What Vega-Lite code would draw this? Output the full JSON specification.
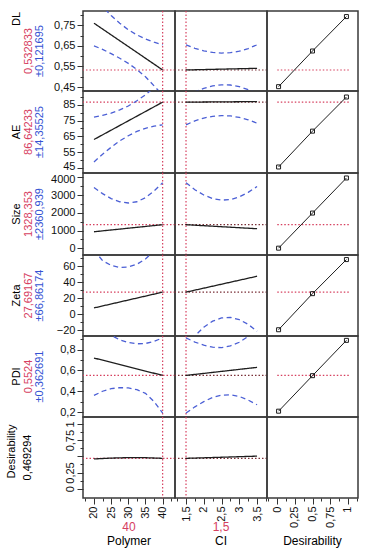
{
"$schema": "https://vega.github.io/schema/vega-lite/v6.json",
"padding": {"left": 0, "top": 8, "right": 7, "bottom": 0},
"background": "white",
"columns": 4,
"spacing": 0,
"bounds": "flush",
"align": "each",
"datasets": {
"factors": [{"factor": "Polymer", "x": 40}, {"factor": "CI", "x": 1.5}],
"current": [{"resp": "DL", "y": 0.532833}, {"resp": "AE", "y": 86.64233}, {"resp": "Size", "y": 1328.353}, {"resp": "Zeta", "y": 27.69167}, {"resp": "PDI", "y": 0.5524}, {"resp": "Desirability", "y": 0.469294}],
"labels": [
{"resp": "DL", "kind": "name", "text": "DL"}, {"resp": "DL", "kind": "value", "text": "0,532833"}, {"resp": "DL", "kind": "ci", "text": "±0,121695"},
{"resp": "AE", "kind": "name", "text": "AE"}, {"resp": "AE", "kind": "value", "text": "86,64233"}, {"resp": "AE", "kind": "ci", "text": "±14,35525"},
{"resp": "Size", "kind": "name", "text": "Size"}, {"resp": "Size", "kind": "value", "text": "1328,353"}, {"resp": "Size", "kind": "ci", "text": "±2360,939"},
{"resp": "Zeta", "kind": "name", "text": "Zeta"}, {"resp": "Zeta", "kind": "value", "text": "27,69167"}, {"resp": "Zeta", "kind": "ci", "text": "±66,86174"},
{"resp": "PDI", "kind": "name", "text": "PDI"}, {"resp": "PDI", "kind": "value", "text": "0,5524"}, {"resp": "PDI", "kind": "ci", "text": "±0,362691"},
{"resp": "Desirability", "kind": "name", "text": "Desirability"}, {"resp": "Desirability", "kind": "dval", "text": "0,469294"}
],
"xlabels": [
{"col": "Polymer", "kind": "value", "text": "40"}, {"col": "Polymer", "kind": "name", "text": "Polymer"},
{"col": "CI", "kind": "value", "text": "1,5"}, {"col": "CI", "kind": "name", "text": "CI"},
{"col": "Desirability", "kind": "name", "text": "Desirability"}
],
"desir": [
{"resp": "DL", "d": 0.0183, "y": 0.452}, {"resp": "DL", "d": 0.5, "y": 0.625}, {"resp": "DL", "d": 0.9817, "y": 0.792},
{"resp": "AE", "d": 0.0183, "y": 45.6}, {"resp": "AE", "d": 0.5, "y": 68.3}, {"resp": "AE", "d": 0.9817, "y": 89.9},
{"resp": "Size", "d": 0.0183, "y": 5}, {"resp": "Size", "d": 0.5, "y": 1983}, {"resp": "Size", "d": 0.9817, "y": 3960},
{"resp": "Zeta", "d": 0.0183, "y": -19.2}, {"resp": "Zeta", "d": 0.5, "y": 25.8}, {"resp": "Zeta", "d": 0.9817, "y": 68.3},
{"resp": "PDI", "d": 0.0183, "y": 0.208}, {"resp": "PDI", "d": 0.5, "y": 0.55}, {"resp": "PDI", "d": 0.9817, "y": 0.89}
],
"curves": [
{"resp": "DL", "factor": "Polymer", "series": "pred", "x": 20, "y": 0.76}, {"resp": "DL", "factor": "Polymer", "series": "pred", "x": 40, "y": 0.533},
{"resp": "DL", "factor": "Polymer", "series": "upper", "x": 20, "y": 0.89}, {"resp": "DL", "factor": "Polymer", "series": "upper", "x": 22.5, "y": 0.84}, {"resp": "DL", "factor": "Polymer", "series": "upper", "x": 25, "y": 0.797}, {"resp": "DL", "factor": "Polymer", "series": "upper", "x": 27.5, "y": 0.76}, {"resp": "DL", "factor": "Polymer", "series": "upper", "x": 30, "y": 0.728}, {"resp": "DL", "factor": "Polymer", "series": "upper", "x": 32.5, "y": 0.703}, {"resp": "DL", "factor": "Polymer", "series": "upper", "x": 35, "y": 0.683}, {"resp": "DL", "factor": "Polymer", "series": "upper", "x": 37.5, "y": 0.668}, {"resp": "DL", "factor": "Polymer", "series": "upper", "x": 40, "y": 0.655},
{"resp": "DL", "factor": "Polymer", "series": "lower", "x": 20, "y": 0.65}, {"resp": "DL", "factor": "Polymer", "series": "lower", "x": 22.5, "y": 0.633}, {"resp": "DL", "factor": "Polymer", "series": "lower", "x": 25, "y": 0.612}, {"resp": "DL", "factor": "Polymer", "series": "lower", "x": 27.5, "y": 0.59}, {"resp": "DL", "factor": "Polymer", "series": "lower", "x": 30, "y": 0.565}, {"resp": "DL", "factor": "Polymer", "series": "lower", "x": 32.5, "y": 0.535}, {"resp": "DL", "factor": "Polymer", "series": "lower", "x": 35, "y": 0.5}, {"resp": "DL", "factor": "Polymer", "series": "lower", "x": 37.5, "y": 0.456}, {"resp": "DL", "factor": "Polymer", "series": "lower", "x": 40, "y": 0.411},
{"resp": "DL", "factor": "CI", "series": "pred", "x": 1.5, "y": 0.533}, {"resp": "DL", "factor": "CI", "series": "pred", "x": 3.5, "y": 0.541},
{"resp": "DL", "factor": "CI", "series": "upper", "x": 1.5, "y": 0.655}, {"resp": "DL", "factor": "CI", "series": "upper", "x": 1.75, "y": 0.638}, {"resp": "DL", "factor": "CI", "series": "upper", "x": 2, "y": 0.626}, {"resp": "DL", "factor": "CI", "series": "upper", "x": 2.25, "y": 0.618}, {"resp": "DL", "factor": "CI", "series": "upper", "x": 2.5, "y": 0.615}, {"resp": "DL", "factor": "CI", "series": "upper", "x": 2.75, "y": 0.617}, {"resp": "DL", "factor": "CI", "series": "upper", "x": 3, "y": 0.624}, {"resp": "DL", "factor": "CI", "series": "upper", "x": 3.25, "y": 0.637}, {"resp": "DL", "factor": "CI", "series": "upper", "x": 3.5, "y": 0.655},
{"resp": "DL", "factor": "CI", "series": "lower", "x": 1.5, "y": 0.411}, {"resp": "DL", "factor": "CI", "series": "lower", "x": 1.75, "y": 0.428}, {"resp": "DL", "factor": "CI", "series": "lower", "x": 2, "y": 0.444}, {"resp": "DL", "factor": "CI", "series": "lower", "x": 2.25, "y": 0.456}, {"resp": "DL", "factor": "CI", "series": "lower", "x": 2.5, "y": 0.461}, {"resp": "DL", "factor": "CI", "series": "lower", "x": 2.75, "y": 0.46}, {"resp": "DL", "factor": "CI", "series": "lower", "x": 3, "y": 0.452}, {"resp": "DL", "factor": "CI", "series": "lower", "x": 3.25, "y": 0.438}, {"resp": "DL", "factor": "CI", "series": "lower", "x": 3.5, "y": 0.42},
{"resp": "AE", "factor": "Polymer", "series": "pred", "x": 20, "y": 63}, {"resp": "AE", "factor": "Polymer", "series": "pred", "x": 40, "y": 86.64},
{"resp": "AE", "factor": "Polymer", "series": "upper", "x": 20, "y": 77.2}, {"resp": "AE", "factor": "Polymer", "series": "upper", "x": 22.5, "y": 78.3}, {"resp": "AE", "factor": "Polymer", "series": "upper", "x": 25, "y": 79.7}, {"resp": "AE", "factor": "Polymer", "series": "upper", "x": 27.5, "y": 81.7}, {"resp": "AE", "factor": "Polymer", "series": "upper", "x": 30, "y": 84.2}, {"resp": "AE", "factor": "Polymer", "series": "upper", "x": 32.5, "y": 87.5}, {"resp": "AE", "factor": "Polymer", "series": "upper", "x": 35, "y": 91.3}, {"resp": "AE", "factor": "Polymer", "series": "upper", "x": 37.5, "y": 95.9}, {"resp": "AE", "factor": "Polymer", "series": "upper", "x": 40, "y": 101},
{"resp": "AE", "factor": "Polymer", "series": "lower", "x": 20, "y": 48.8}, {"resp": "AE", "factor": "Polymer", "series": "lower", "x": 22.5, "y": 53.7}, {"resp": "AE", "factor": "Polymer", "series": "lower", "x": 25, "y": 58.1}, {"resp": "AE", "factor": "Polymer", "series": "lower", "x": 27.5, "y": 62.1}, {"resp": "AE", "factor": "Polymer", "series": "lower", "x": 30, "y": 65.4}, {"resp": "AE", "factor": "Polymer", "series": "lower", "x": 32.5, "y": 68.1}, {"resp": "AE", "factor": "Polymer", "series": "lower", "x": 35, "y": 70.1}, {"resp": "AE", "factor": "Polymer", "series": "lower", "x": 37.5, "y": 71.5}, {"resp": "AE", "factor": "Polymer", "series": "lower", "x": 40, "y": 72.3},
{"resp": "AE", "factor": "CI", "series": "pred", "x": 1.5, "y": 86.64}, {"resp": "AE", "factor": "CI", "series": "pred", "x": 3.5, "y": 87.0},
{"resp": "AE", "factor": "CI", "series": "upper", "x": 1.5, "y": 101}, {"resp": "AE", "factor": "CI", "series": "upper", "x": 2, "y": 97.2}, {"resp": "AE", "factor": "CI", "series": "upper", "x": 2.5, "y": 95.3}, {"resp": "AE", "factor": "CI", "series": "upper", "x": 3, "y": 96.8}, {"resp": "AE", "factor": "CI", "series": "upper", "x": 3.5, "y": 100.7},
{"resp": "AE", "factor": "CI", "series": "lower", "x": 1.5, "y": 72.3}, {"resp": "AE", "factor": "CI", "series": "lower", "x": 1.75, "y": 74.8}, {"resp": "AE", "factor": "CI", "series": "lower", "x": 2, "y": 76.6}, {"resp": "AE", "factor": "CI", "series": "lower", "x": 2.25, "y": 77.7}, {"resp": "AE", "factor": "CI", "series": "lower", "x": 2.5, "y": 78.1}, {"resp": "AE", "factor": "CI", "series": "lower", "x": 2.75, "y": 77.9}, {"resp": "AE", "factor": "CI", "series": "lower", "x": 3, "y": 77}, {"resp": "AE", "factor": "CI", "series": "lower", "x": 3.25, "y": 75.5}, {"resp": "AE", "factor": "CI", "series": "lower", "x": 3.5, "y": 73.3},
{"resp": "Size", "factor": "Polymer", "series": "pred", "x": 20, "y": 930}, {"resp": "Size", "factor": "Polymer", "series": "pred", "x": 40, "y": 1328},
{"resp": "Size", "factor": "Polymer", "series": "upper", "x": 20, "y": 3420}, {"resp": "Size", "factor": "Polymer", "series": "upper", "x": 22.5, "y": 3080}, {"resp": "Size", "factor": "Polymer", "series": "upper", "x": 25, "y": 2800}, {"resp": "Size", "factor": "Polymer", "series": "upper", "x": 27.5, "y": 2620}, {"resp": "Size", "factor": "Polymer", "series": "upper", "x": 30, "y": 2550}, {"resp": "Size", "factor": "Polymer", "series": "upper", "x": 32.5, "y": 2620}, {"resp": "Size", "factor": "Polymer", "series": "upper", "x": 35, "y": 2850}, {"resp": "Size", "factor": "Polymer", "series": "upper", "x": 37.5, "y": 3230}, {"resp": "Size", "factor": "Polymer", "series": "upper", "x": 40, "y": 3689},
{"resp": "Size", "factor": "Polymer", "series": "lower", "x": 20, "y": -1560}, {"resp": "Size", "factor": "Polymer", "series": "lower", "x": 22.5, "y": -1120}, {"resp": "Size", "factor": "Polymer", "series": "lower", "x": 25, "y": -800}, {"resp": "Size", "factor": "Polymer", "series": "lower", "x": 27.5, "y": -600}, {"resp": "Size", "factor": "Polymer", "series": "lower", "x": 30, "y": -480}, {"resp": "Size", "factor": "Polymer", "series": "lower", "x": 32.5, "y": -450}, {"resp": "Size", "factor": "Polymer", "series": "lower", "x": 35, "y": -520}, {"resp": "Size", "factor": "Polymer", "series": "lower", "x": 37.5, "y": -720}, {"resp": "Size", "factor": "Polymer", "series": "lower", "x": 40, "y": -1033},
{"resp": "Size", "factor": "CI", "series": "pred", "x": 1.5, "y": 1328}, {"resp": "Size", "factor": "CI", "series": "pred", "x": 3.5, "y": 1100},
{"resp": "Size", "factor": "CI", "series": "upper", "x": 1.5, "y": 3689}, {"resp": "Size", "factor": "CI", "series": "upper", "x": 1.75, "y": 3300}, {"resp": "Size", "factor": "CI", "series": "upper", "x": 2, "y": 3000}, {"resp": "Size", "factor": "CI", "series": "upper", "x": 2.25, "y": 2800}, {"resp": "Size", "factor": "CI", "series": "upper", "x": 2.5, "y": 2710}, {"resp": "Size", "factor": "CI", "series": "upper", "x": 2.75, "y": 2740}, {"resp": "Size", "factor": "CI", "series": "upper", "x": 3, "y": 2900}, {"resp": "Size", "factor": "CI", "series": "upper", "x": 3.25, "y": 3150}, {"resp": "Size", "factor": "CI", "series": "upper", "x": 3.5, "y": 3480},
{"resp": "Size", "factor": "CI", "series": "lower", "x": 1.5, "y": -1033}, {"resp": "Size", "factor": "CI", "series": "lower", "x": 1.75, "y": -760}, {"resp": "Size", "factor": "CI", "series": "lower", "x": 2, "y": -600}, {"resp": "Size", "factor": "CI", "series": "lower", "x": 2.25, "y": -500}, {"resp": "Size", "factor": "CI", "series": "lower", "x": 2.5, "y": -460}, {"resp": "Size", "factor": "CI", "series": "lower", "x": 2.75, "y": -480}, {"resp": "Size", "factor": "CI", "series": "lower", "x": 3, "y": -620}, {"resp": "Size", "factor": "CI", "series": "lower", "x": 3.25, "y": -900}, {"resp": "Size", "factor": "CI", "series": "lower", "x": 3.5, "y": -1280},
{"resp": "Zeta", "factor": "Polymer", "series": "pred", "x": 20, "y": 8}, {"resp": "Zeta", "factor": "Polymer", "series": "pred", "x": 40, "y": 27.69},
{"resp": "Zeta", "factor": "Polymer", "series": "upper", "x": 20, "y": 80}, {"resp": "Zeta", "factor": "Polymer", "series": "upper", "x": 22.5, "y": 67}, {"resp": "Zeta", "factor": "Polymer", "series": "upper", "x": 25, "y": 61}, {"resp": "Zeta", "factor": "Polymer", "series": "upper", "x": 27.5, "y": 58.5}, {"resp": "Zeta", "factor": "Polymer", "series": "upper", "x": 30, "y": 59}, {"resp": "Zeta", "factor": "Polymer", "series": "upper", "x": 32.5, "y": 62.5}, {"resp": "Zeta", "factor": "Polymer", "series": "upper", "x": 35, "y": 69}, {"resp": "Zeta", "factor": "Polymer", "series": "upper", "x": 37.5, "y": 79}, {"resp": "Zeta", "factor": "Polymer", "series": "upper", "x": 40, "y": 94.55},
{"resp": "Zeta", "factor": "Polymer", "series": "lower", "x": 20, "y": -64}, {"resp": "Zeta", "factor": "Polymer", "series": "lower", "x": 22.5, "y": -48}, {"resp": "Zeta", "factor": "Polymer", "series": "lower", "x": 25, "y": -38}, {"resp": "Zeta", "factor": "Polymer", "series": "lower", "x": 27.5, "y": -32}, {"resp": "Zeta", "factor": "Polymer", "series": "lower", "x": 30, "y": -29.5}, {"resp": "Zeta", "factor": "Polymer", "series": "lower", "x": 32.5, "y": -29}, {"resp": "Zeta", "factor": "Polymer", "series": "lower", "x": 35, "y": -31}, {"resp": "Zeta", "factor": "Polymer", "series": "lower", "x": 37.5, "y": -35}, {"resp": "Zeta", "factor": "Polymer", "series": "lower", "x": 40, "y": -39.2},
{"resp": "Zeta", "factor": "CI", "series": "pred", "x": 1.5, "y": 27.69}, {"resp": "Zeta", "factor": "CI", "series": "pred", "x": 3.5, "y": 47.5},
{"resp": "Zeta", "factor": "CI", "series": "upper", "x": 1.5, "y": 94.6}, {"resp": "Zeta", "factor": "CI", "series": "upper", "x": 2, "y": 81.2}, {"resp": "Zeta", "factor": "CI", "series": "upper", "x": 2.5, "y": 79.7}, {"resp": "Zeta", "factor": "CI", "series": "upper", "x": 3, "y": 91.5}, {"resp": "Zeta", "factor": "CI", "series": "upper", "x": 3.5, "y": 116},
{"resp": "Zeta", "factor": "CI", "series": "lower", "x": 1.5, "y": -39.2}, {"resp": "Zeta", "factor": "CI", "series": "lower", "x": 1.75, "y": -27}, {"resp": "Zeta", "factor": "CI", "series": "lower", "x": 2, "y": -16}, {"resp": "Zeta", "factor": "CI", "series": "lower", "x": 2.25, "y": -8.5}, {"resp": "Zeta", "factor": "CI", "series": "lower", "x": 2.5, "y": -4.5}, {"resp": "Zeta", "factor": "CI", "series": "lower", "x": 2.75, "y": -3.8}, {"resp": "Zeta", "factor": "CI", "series": "lower", "x": 3, "y": -6.5}, {"resp": "Zeta", "factor": "CI", "series": "lower", "x": 3.25, "y": -12.5}, {"resp": "Zeta", "factor": "CI", "series": "lower", "x": 3.5, "y": -21},
{"resp": "PDI", "factor": "Polymer", "series": "pred", "x": 20, "y": 0.72}, {"resp": "PDI", "factor": "Polymer", "series": "pred", "x": 40, "y": 0.5524},
{"resp": "PDI", "factor": "Polymer", "series": "upper", "x": 20, "y": 1.08}, {"resp": "PDI", "factor": "Polymer", "series": "upper", "x": 22.5, "y": 1.0}, {"resp": "PDI", "factor": "Polymer", "series": "upper", "x": 25, "y": 0.94}, {"resp": "PDI", "factor": "Polymer", "series": "upper", "x": 27.5, "y": 0.895}, {"resp": "PDI", "factor": "Polymer", "series": "upper", "x": 30, "y": 0.87}, {"resp": "PDI", "factor": "Polymer", "series": "upper", "x": 32.5, "y": 0.857}, {"resp": "PDI", "factor": "Polymer", "series": "upper", "x": 35, "y": 0.86}, {"resp": "PDI", "factor": "Polymer", "series": "upper", "x": 37.5, "y": 0.88}, {"resp": "PDI", "factor": "Polymer", "series": "upper", "x": 40, "y": 0.914},
{"resp": "PDI", "factor": "Polymer", "series": "lower", "x": 20, "y": 0.36}, {"resp": "PDI", "factor": "Polymer", "series": "lower", "x": 22.5, "y": 0.4}, {"resp": "PDI", "factor": "Polymer", "series": "lower", "x": 25, "y": 0.425}, {"resp": "PDI", "factor": "Polymer", "series": "lower", "x": 27.5, "y": 0.435}, {"resp": "PDI", "factor": "Polymer", "series": "lower", "x": 30, "y": 0.432}, {"resp": "PDI", "factor": "Polymer", "series": "lower", "x": 32.5, "y": 0.415}, {"resp": "PDI", "factor": "Polymer", "series": "lower", "x": 35, "y": 0.38}, {"resp": "PDI", "factor": "Polymer", "series": "lower", "x": 37.5, "y": 0.3}, {"resp": "PDI", "factor": "Polymer", "series": "lower", "x": 40, "y": 0.19},
{"resp": "PDI", "factor": "CI", "series": "pred", "x": 1.5, "y": 0.5524}, {"resp": "PDI", "factor": "CI", "series": "pred", "x": 3.5, "y": 0.63},
{"resp": "PDI", "factor": "CI", "series": "upper", "x": 1.5, "y": 0.914}, {"resp": "PDI", "factor": "CI", "series": "upper", "x": 1.75, "y": 0.874}, {"resp": "PDI", "factor": "CI", "series": "upper", "x": 2, "y": 0.844}, {"resp": "PDI", "factor": "CI", "series": "upper", "x": 2.25, "y": 0.824}, {"resp": "PDI", "factor": "CI", "series": "upper", "x": 2.5, "y": 0.82}, {"resp": "PDI", "factor": "CI", "series": "upper", "x": 2.75, "y": 0.837}, {"resp": "PDI", "factor": "CI", "series": "upper", "x": 3, "y": 0.872}, {"resp": "PDI", "factor": "CI", "series": "upper", "x": 3.25, "y": 0.927}, {"resp": "PDI", "factor": "CI", "series": "upper", "x": 3.5, "y": 0.99},
{"resp": "PDI", "factor": "CI", "series": "lower", "x": 1.5, "y": 0.19}, {"resp": "PDI", "factor": "CI", "series": "lower", "x": 1.75, "y": 0.25}, {"resp": "PDI", "factor": "CI", "series": "lower", "x": 2, "y": 0.3}, {"resp": "PDI", "factor": "CI", "series": "lower", "x": 2.25, "y": 0.34}, {"resp": "PDI", "factor": "CI", "series": "lower", "x": 2.5, "y": 0.362}, {"resp": "PDI", "factor": "CI", "series": "lower", "x": 2.75, "y": 0.365}, {"resp": "PDI", "factor": "CI", "series": "lower", "x": 3, "y": 0.35}, {"resp": "PDI", "factor": "CI", "series": "lower", "x": 3.25, "y": 0.315}, {"resp": "PDI", "factor": "CI", "series": "lower", "x": 3.5, "y": 0.27},
{"resp": "Desirability", "factor": "Polymer", "series": "pred", "x": 20, "y": 0.46}, {"resp": "Desirability", "factor": "Polymer", "series": "pred", "x": 25, "y": 0.473}, {"resp": "Desirability", "factor": "Polymer", "series": "pred", "x": 30, "y": 0.48}, {"resp": "Desirability", "factor": "Polymer", "series": "pred", "x": 35, "y": 0.479}, {"resp": "Desirability", "factor": "Polymer", "series": "pred", "x": 40, "y": 0.469},
{"resp": "Desirability", "factor": "CI", "series": "pred", "x": 1.5, "y": 0.469}, {"resp": "Desirability", "factor": "CI", "series": "pred", "x": 2.5, "y": 0.486}, {"resp": "Desirability", "factor": "CI", "series": "pred", "x": 3.5, "y": 0.503}
]
},
"concat": [
{"width": 83, "height": 80, "view": {"stroke": null}, "data": {"name": "labels"}, "layer": [
{"transform": [{"filter": "datum.resp==='DL'&&datum.kind!=='name'"}], "mark": {"type": "text", "angle": 270}, "encoding": {"x": {"field": "kind", "type": "nominal", "scale": {"type": "point", "padding": 0, "domain": ["name", "value", "ci"], "range": [17, 40]}, "axis": null}, "text": {"field": "text"}, "color": {"field": "kind", "type": "nominal", "scale": {"domain": ["pred", "upper", "lower", "name", "value", "ci", "dval"], "range": ["#1e1e1e", "#4b5fd5", "#4b5fd5", "#000000", "#d6405f", "#3553d3", "#000000"]}, "legend": null}}},
{"transform": [{"filter": "datum.resp==='DL'&&datum.kind==='name'"}], "mark": {"type": "text", "angle": 270, "dx": 32}, "encoding": {"x": {"field": "kind", "type": "nominal", "scale": {"type": "point", "padding": 0, "domain": ["name", "value", "ci"], "range": [17, 40]}, "axis": null}, "text": {"field": "text"}, "color": {"field": "kind", "type": "nominal", "scale": {"domain": ["pred", "upper", "lower", "name", "value", "ci", "dval"], "range": ["#1e1e1e", "#4b5fd5", "#4b5fd5", "#000000", "#d6405f", "#3553d3", "#000000"]}, "legend": null}}}
]},
{"width": 92, "height": 80, "layer": [
{"data": {"name": "factors"}, "transform": [{"filter": "datum.factor==='Polymer'"}], "mark": {"type": "rule", "style": "dot"}, "encoding": {"x": {"field": "x", "type": "quantitative", "scale": {"domain": [16.8, 43.6], "nice": false, "zero": false}, "axis": null}}},
{"data": {"name": "current"}, "transform": [{"filter": "datum.resp==='DL'"}], "mark": {"type": "rule", "style": "dot"}, "encoding": {"y": {"field": "y", "type": "quantitative", "scale": {"domain": [0.431, 0.819], "nice": false, "zero": false}, "axis": {"title": null, "values": [0.45, 0.5, 0.55, 0.6, 0.65, 0.7, 0.75, 0.8], "labelExpr": "indexof([0.45,0.55,0.65,0.75],datum.value)>=0?replace(format(datum.value,'~g'),'.',','):''", "tickSize": {"condition": {"test": "indexof([0.45,0.55,0.65,0.75],datum.value)<0", "value": 3}, "value": 6}}}}},
{"data": {"name": "curves"}, "transform": [{"filter": "datum.resp==='DL'&&datum.factor==='Polymer'"}], "mark": {"type": "line", "clip": true}, "encoding": {
"x": {"field": "x", "type": "quantitative", "scale": {"domain": [16.8, 43.6], "nice": false, "zero": false}, "axis": null},
"y": {"field": "y", "type": "quantitative", "scale": {"domain": [0.431, 0.819], "nice": false, "zero": false}, "axis": {"title": null, "values": [0.45, 0.5, 0.55, 0.6, 0.65, 0.7, 0.75, 0.8], "labelExpr": "indexof([0.45,0.55,0.65,0.75],datum.value)>=0?replace(format(datum.value,'~g'),'.',','):''", "tickSize": {"condition": {"test": "indexof([0.45,0.55,0.65,0.75],datum.value)<0", "value": 3}, "value": 6}}},
"color": {"field": "series", "type": "nominal", "scale": {"domain": ["pred", "upper", "lower", "name", "value", "ci", "dval"], "range": ["#1e1e1e", "#4b5fd5", "#4b5fd5", "#000000", "#d6405f", "#3553d3", "#000000"]}, "legend": null},
"strokeDash": {"field": "series", "type": "nominal", "scale": {"domain": ["pred", "upper", "lower"], "range": [[1, 0], [5, 3.5], [5, 3.5]]}, "legend": null}}}
]},
{"width": 92, "height": 80, "layer": [
{"data": {"name": "factors"}, "transform": [{"filter": "datum.factor==='CI'"}], "mark": {"type": "rule", "style": "dot"}, "encoding": {"x": {"field": "x", "type": "quantitative", "scale": {"domain": [1.19, 3.78], "nice": false, "zero": false}, "axis": null}}},
{"data": {"name": "current"}, "transform": [{"filter": "datum.resp==='DL'"}], "mark": {"type": "rule", "style": "dotk"}, "encoding": {"y": {"field": "y", "type": "quantitative", "scale": {"domain": [0.431, 0.819], "nice": false, "zero": false}, "axis": null}}},
{"data": {"name": "curves"}, "transform": [{"filter": "datum.resp==='DL'&&datum.factor==='CI'"}], "mark": {"type": "line", "clip": true}, "encoding": {
"x": {"field": "x", "type": "quantitative", "scale": {"domain": [1.19, 3.78], "nice": false, "zero": false}, "axis": null},
"y": {"field": "y", "type": "quantitative", "scale": {"domain": [0.431, 0.819], "nice": false, "zero": false}, "axis": null},
"color": {"field": "series", "type": "nominal", "scale": {"domain": ["pred", "upper", "lower", "name", "value", "ci", "dval"], "range": ["#1e1e1e", "#4b5fd5", "#4b5fd5", "#000000", "#d6405f", "#3553d3", "#000000"]}, "legend": null},
"strokeDash": {"field": "series", "type": "nominal", "scale": {"domain": ["pred", "upper", "lower"], "range": [[1, 0], [5, 3.5], [5, 3.5]]}, "legend": null}}}
]},
{"width": 91, "height": 80, "layer": [
{"data": {"name": "current"}, "transform": [{"filter": "datum.resp==='DL'"}], "mark": {"type": "rule", "style": "dot"}, "encoding": {"x": {"datum": 0, "type": "quantitative", "scale": {"domain": [-0.146, 1.146], "nice": false, "zero": false}, "axis": null}, "x2": {"datum": 1.03}, "y": {"field": "y", "type": "quantitative", "scale": {"domain": [0.431, 0.819], "nice": false, "zero": false}, "axis": null}}},
{"data": {"name": "desir"}, "transform": [{"filter": "datum.resp==='DL'"}], "mark": {"type": "line", "color": "#1e1e1e", "strokeWidth": 1, "point": {"shape": "square", "size": 16, "filled": false, "color": "#1e1e1e", "strokeWidth": 1}}, "encoding": {"x": {"field": "d", "type": "quantitative", "scale": {"domain": [-0.146, 1.146], "nice": false, "zero": false}, "axis": null}, "y": {"field": "y", "type": "quantitative", "scale": {"domain": [0.431, 0.819], "nice": false, "zero": false}, "axis": null}}}
]},

{"width": 83, "height": 82, "view": {"stroke": null}, "data": {"name": "labels"}, "transform": [{"filter": "datum.resp==='AE'"}], "mark": {"type": "text", "angle": 270}, "encoding": {"x": {"field": "kind", "type": "nominal", "scale": {"type": "point", "padding": 0, "domain": ["name", "value", "ci"], "range": [17, 40]}, "axis": null}, "text": {"field": "text"}, "color": {"field": "kind", "type": "nominal", "scale": {"domain": ["pred", "upper", "lower", "name", "value", "ci", "dval"], "range": ["#1e1e1e", "#4b5fd5", "#4b5fd5", "#000000", "#d6405f", "#3553d3", "#000000"]}, "legend": null}}},
{"width": 92, "height": 82, "layer": [
{"data": {"name": "factors"}, "transform": [{"filter": "datum.factor==='Polymer'"}], "mark": {"type": "rule", "style": "dot"}, "encoding": {"x": {"field": "x", "type": "quantitative", "scale": {"domain": [16.8, 43.6], "nice": false, "zero": false}, "axis": null}}},
{"data": {"name": "current"}, "transform": [{"filter": "datum.resp==='AE'"}], "mark": {"type": "rule", "style": "dot"}, "encoding": {"y": {"field": "y", "type": "quantitative", "scale": {"domain": [41.8, 93.7], "nice": false, "zero": false}, "axis": {"title": null, "values": [45, 50, 55, 60, 65, 70, 75, 80, 85, 90], "labelExpr": "indexof([45,55,65,75,85],datum.value)>=0?format(datum.value,'d'):''", "labelOffset": {"condition": {"test": "datum.value===45", "value": -1.5}, "value": 0}, "tickSize": {"condition": {"test": "indexof([45,55,65,75,85],datum.value)<0", "value": 3}, "value": 6}}}}},
{"data": {"name": "curves"}, "transform": [{"filter": "datum.resp==='AE'&&datum.factor==='Polymer'"}], "mark": {"type": "line", "clip": true}, "encoding": {
"x": {"field": "x", "type": "quantitative", "scale": {"domain": [16.8, 43.6], "nice": false, "zero": false}, "axis": null},
"y": {"field": "y", "type": "quantitative", "scale": {"domain": [41.8, 93.7], "nice": false, "zero": false}, "axis": {"title": null, "values": [45, 50, 55, 60, 65, 70, 75, 80, 85, 90], "labelExpr": "indexof([45,55,65,75,85],datum.value)>=0?format(datum.value,'d'):''", "labelOffset": {"condition": {"test": "datum.value===45", "value": -1.5}, "value": 0}, "tickSize": {"condition": {"test": "indexof([45,55,65,75,85],datum.value)<0", "value": 3}, "value": 6}}},
"color": {"field": "series", "type": "nominal", "scale": {"domain": ["pred", "upper", "lower", "name", "value", "ci", "dval"], "range": ["#1e1e1e", "#4b5fd5", "#4b5fd5", "#000000", "#d6405f", "#3553d3", "#000000"]}, "legend": null},
"strokeDash": {"field": "series", "type": "nominal", "scale": {"domain": ["pred", "upper", "lower"], "range": [[1, 0], [5, 3.5], [5, 3.5]]}, "legend": null}}}
]},
{"width": 92, "height": 82, "layer": [
{"data": {"name": "factors"}, "transform": [{"filter": "datum.factor==='CI'"}], "mark": {"type": "rule", "style": "dot"}, "encoding": {"x": {"field": "x", "type": "quantitative", "scale": {"domain": [1.19, 3.78], "nice": false, "zero": false}, "axis": null}}},
{"data": {"name": "current"}, "transform": [{"filter": "datum.resp==='AE'"}], "mark": {"type": "rule", "style": "dotk"}, "encoding": {"y": {"field": "y", "type": "quantitative", "scale": {"domain": [41.8, 93.7], "nice": false, "zero": false}, "axis": null}}},
{"data": {"name": "curves"}, "transform": [{"filter": "datum.resp==='AE'&&datum.factor==='CI'"}], "mark": {"type": "line", "clip": true}, "encoding": {
"x": {"field": "x", "type": "quantitative", "scale": {"domain": [1.19, 3.78], "nice": false, "zero": false}, "axis": null},
"y": {"field": "y", "type": "quantitative", "scale": {"domain": [41.8, 93.7], "nice": false, "zero": false}, "axis": null},
"color": {"field": "series", "type": "nominal", "scale": {"domain": ["pred", "upper", "lower", "name", "value", "ci", "dval"], "range": ["#1e1e1e", "#4b5fd5", "#4b5fd5", "#000000", "#d6405f", "#3553d3", "#000000"]}, "legend": null},
"strokeDash": {"field": "series", "type": "nominal", "scale": {"domain": ["pred", "upper", "lower"], "range": [[1, 0], [5, 3.5], [5, 3.5]]}, "legend": null}}}
]},
{"width": 91, "height": 82, "layer": [
{"data": {"name": "current"}, "transform": [{"filter": "datum.resp==='AE'"}], "mark": {"type": "rule", "style": "dot"}, "encoding": {"x": {"datum": 0, "type": "quantitative", "scale": {"domain": [-0.146, 1.146], "nice": false, "zero": false}, "axis": null}, "x2": {"datum": 1.03}, "y": {"field": "y", "type": "quantitative", "scale": {"domain": [41.8, 93.7], "nice": false, "zero": false}, "axis": null}}},
{"data": {"name": "desir"}, "transform": [{"filter": "datum.resp==='AE'"}], "mark": {"type": "line", "color": "#1e1e1e", "strokeWidth": 1, "point": {"shape": "square", "size": 16, "filled": false, "color": "#1e1e1e", "strokeWidth": 1}}, "encoding": {"x": {"field": "d", "type": "quantitative", "scale": {"domain": [-0.146, 1.146], "nice": false, "zero": false}, "axis": null}, "y": {"field": "y", "type": "quantitative", "scale": {"domain": [41.8, 93.7], "nice": false, "zero": false}, "axis": null}}}
]},

{"width": 83, "height": 82, "view": {"stroke": null}, "data": {"name": "labels"}, "transform": [{"filter": "datum.resp==='Size'"}], "mark": {"type": "text", "angle": 270}, "encoding": {"x": {"field": "kind", "type": "nominal", "scale": {"type": "point", "padding": 0, "domain": ["name", "value", "ci"], "range": [17, 40]}, "axis": null}, "text": {"field": "text"}, "color": {"field": "kind", "type": "nominal", "scale": {"domain": ["pred", "upper", "lower", "name", "value", "ci", "dval"], "range": ["#1e1e1e", "#4b5fd5", "#4b5fd5", "#000000", "#d6405f", "#3553d3", "#000000"]}, "legend": null}}},
{"width": 92, "height": 82, "layer": [
{"data": {"name": "factors"}, "transform": [{"filter": "datum.factor==='Polymer'"}], "mark": {"type": "rule", "style": "dot"}, "encoding": {"x": {"field": "x", "type": "quantitative", "scale": {"domain": [16.8, 43.6], "nice": false, "zero": false}, "axis": null}}},
{"data": {"name": "current"}, "transform": [{"filter": "datum.resp==='Size'"}], "mark": {"type": "rule", "style": "dot"}, "encoding": {"y": {"field": "y", "type": "quantitative", "scale": {"domain": [-380, 4240], "nice": false, "zero": false}, "axis": {"title": null, "values": [0, 500, 1000, 1500, 2000, 2500, 3000, 3500, 4000], "labelExpr": "indexof([0,1000,2000,3000,4000],datum.value)>=0?format(datum.value,'d'):''", "labelOffset": {"condition": {"test": "datum.value===4000", "value": 2}, "value": 0}, "tickSize": {"condition": {"test": "indexof([0,1000,2000,3000,4000],datum.value)<0", "value": 3}, "value": 6}}}}},
{"data": {"name": "curves"}, "transform": [{"filter": "datum.resp==='Size'&&datum.factor==='Polymer'"}], "mark": {"type": "line", "clip": true}, "encoding": {
"x": {"field": "x", "type": "quantitative", "scale": {"domain": [16.8, 43.6], "nice": false, "zero": false}, "axis": null},
"y": {"field": "y", "type": "quantitative", "scale": {"domain": [-380, 4240], "nice": false, "zero": false}, "axis": {"title": null, "values": [0, 500, 1000, 1500, 2000, 2500, 3000, 3500, 4000], "labelExpr": "indexof([0,1000,2000,3000,4000],datum.value)>=0?format(datum.value,'d'):''", "labelOffset": {"condition": {"test": "datum.value===4000", "value": 2}, "value": 0}, "tickSize": {"condition": {"test": "indexof([0,1000,2000,3000,4000],datum.value)<0", "value": 3}, "value": 6}}},
"color": {"field": "series", "type": "nominal", "scale": {"domain": ["pred", "upper", "lower", "name", "value", "ci", "dval"], "range": ["#1e1e1e", "#4b5fd5", "#4b5fd5", "#000000", "#d6405f", "#3553d3", "#000000"]}, "legend": null},
"strokeDash": {"field": "series", "type": "nominal", "scale": {"domain": ["pred", "upper", "lower"], "range": [[1, 0], [5, 3.5], [5, 3.5]]}, "legend": null}}}
]},
{"width": 92, "height": 82, "layer": [
{"data": {"name": "factors"}, "transform": [{"filter": "datum.factor==='CI'"}], "mark": {"type": "rule", "style": "dot"}, "encoding": {"x": {"field": "x", "type": "quantitative", "scale": {"domain": [1.19, 3.78], "nice": false, "zero": false}, "axis": null}}},
{"data": {"name": "current"}, "transform": [{"filter": "datum.resp==='Size'"}], "mark": {"type": "rule", "style": "dotk"}, "encoding": {"y": {"field": "y", "type": "quantitative", "scale": {"domain": [-380, 4240], "nice": false, "zero": false}, "axis": null}}},
{"data": {"name": "curves"}, "transform": [{"filter": "datum.resp==='Size'&&datum.factor==='CI'"}], "mark": {"type": "line", "clip": true}, "encoding": {
"x": {"field": "x", "type": "quantitative", "scale": {"domain": [1.19, 3.78], "nice": false, "zero": false}, "axis": null},
"y": {"field": "y", "type": "quantitative", "scale": {"domain": [-380, 4240], "nice": false, "zero": false}, "axis": null},
"color": {"field": "series", "type": "nominal", "scale": {"domain": ["pred", "upper", "lower", "name", "value", "ci", "dval"], "range": ["#1e1e1e", "#4b5fd5", "#4b5fd5", "#000000", "#d6405f", "#3553d3", "#000000"]}, "legend": null},
"strokeDash": {"field": "series", "type": "nominal", "scale": {"domain": ["pred", "upper", "lower"], "range": [[1, 0], [5, 3.5], [5, 3.5]]}, "legend": null}}}
]},
{"width": 91, "height": 82, "layer": [
{"data": {"name": "current"}, "transform": [{"filter": "datum.resp==='Size'"}], "mark": {"type": "rule", "style": "dot"}, "encoding": {"x": {"datum": 0, "type": "quantitative", "scale": {"domain": [-0.146, 1.146], "nice": false, "zero": false}, "axis": null}, "x2": {"datum": 1.03}, "y": {"field": "y", "type": "quantitative", "scale": {"domain": [-380, 4240], "nice": false, "zero": false}, "axis": null}}},
{"data": {"name": "desir"}, "transform": [{"filter": "datum.resp==='Size'"}], "mark": {"type": "line", "color": "#1e1e1e", "strokeWidth": 1, "point": {"shape": "square", "size": 16, "filled": false, "color": "#1e1e1e", "strokeWidth": 1}}, "encoding": {"x": {"field": "d", "type": "quantitative", "scale": {"domain": [-0.146, 1.146], "nice": false, "zero": false}, "axis": null}, "y": {"field": "y", "type": "quantitative", "scale": {"domain": [-380, 4240], "nice": false, "zero": false}, "axis": null}}}
]},

{"width": 83, "height": 81, "view": {"stroke": null}, "data": {"name": "labels"}, "transform": [{"filter": "datum.resp==='Zeta'"}], "mark": {"type": "text", "angle": 270}, "encoding": {"x": {"field": "kind", "type": "nominal", "scale": {"type": "point", "padding": 0, "domain": ["name", "value", "ci"], "range": [17, 40]}, "axis": null}, "text": {"field": "text"}, "color": {"field": "kind", "type": "nominal", "scale": {"domain": ["pred", "upper", "lower", "name", "value", "ci", "dval"], "range": ["#1e1e1e", "#4b5fd5", "#4b5fd5", "#000000", "#d6405f", "#3553d3", "#000000"]}, "legend": null}}},
{"width": 92, "height": 81, "layer": [
{"data": {"name": "factors"}, "transform": [{"filter": "datum.factor==='Polymer'"}], "mark": {"type": "rule", "style": "dot"}, "encoding": {"x": {"field": "x", "type": "quantitative", "scale": {"domain": [16.8, 43.6], "nice": false, "zero": false}, "axis": null}}},
{"data": {"name": "current"}, "transform": [{"filter": "datum.resp==='Zeta'"}], "mark": {"type": "rule", "style": "dot"}, "encoding": {"y": {"field": "y", "type": "quantitative", "scale": {"domain": [-27, 74], "nice": false, "zero": false}, "axis": {"title": null, "values": [-20, -10, 0, 10, 20, 30, 40, 50, 60, 70], "labelExpr": "indexof([-20,0,20,40,60],datum.value)>=0?format(datum.value,'d'):''", "tickSize": {"condition": {"test": "indexof([-20,0,20,40,60],datum.value)<0", "value": 3}, "value": 6}}}}},
{"data": {"name": "curves"}, "transform": [{"filter": "datum.resp==='Zeta'&&datum.factor==='Polymer'"}], "mark": {"type": "line", "clip": true}, "encoding": {
"x": {"field": "x", "type": "quantitative", "scale": {"domain": [16.8, 43.6], "nice": false, "zero": false}, "axis": null},
"y": {"field": "y", "type": "quantitative", "scale": {"domain": [-27, 74], "nice": false, "zero": false}, "axis": {"title": null, "values": [-20, -10, 0, 10, 20, 30, 40, 50, 60, 70], "labelExpr": "indexof([-20,0,20,40,60],datum.value)>=0?format(datum.value,'d'):''", "tickSize": {"condition": {"test": "indexof([-20,0,20,40,60],datum.value)<0", "value": 3}, "value": 6}}},
"color": {"field": "series", "type": "nominal", "scale": {"domain": ["pred", "upper", "lower", "name", "value", "ci", "dval"], "range": ["#1e1e1e", "#4b5fd5", "#4b5fd5", "#000000", "#d6405f", "#3553d3", "#000000"]}, "legend": null},
"strokeDash": {"field": "series", "type": "nominal", "scale": {"domain": ["pred", "upper", "lower"], "range": [[1, 0], [5, 3.5], [5, 3.5]]}, "legend": null}}}
]},
{"width": 92, "height": 81, "layer": [
{"data": {"name": "factors"}, "transform": [{"filter": "datum.factor==='CI'"}], "mark": {"type": "rule", "style": "dot"}, "encoding": {"x": {"field": "x", "type": "quantitative", "scale": {"domain": [1.19, 3.78], "nice": false, "zero": false}, "axis": null}}},
{"data": {"name": "current"}, "transform": [{"filter": "datum.resp==='Zeta'"}], "mark": {"type": "rule", "style": "dotk"}, "encoding": {"y": {"field": "y", "type": "quantitative", "scale": {"domain": [-27, 74], "nice": false, "zero": false}, "axis": null}}},
{"data": {"name": "curves"}, "transform": [{"filter": "datum.resp==='Zeta'&&datum.factor==='CI'"}], "mark": {"type": "line", "clip": true}, "encoding": {
"x": {"field": "x", "type": "quantitative", "scale": {"domain": [1.19, 3.78], "nice": false, "zero": false}, "axis": null},
"y": {"field": "y", "type": "quantitative", "scale": {"domain": [-27, 74], "nice": false, "zero": false}, "axis": null},
"color": {"field": "series", "type": "nominal", "scale": {"domain": ["pred", "upper", "lower", "name", "value", "ci", "dval"], "range": ["#1e1e1e", "#4b5fd5", "#4b5fd5", "#000000", "#d6405f", "#3553d3", "#000000"]}, "legend": null},
"strokeDash": {"field": "series", "type": "nominal", "scale": {"domain": ["pred", "upper", "lower"], "range": [[1, 0], [5, 3.5], [5, 3.5]]}, "legend": null}}}
]},
{"width": 91, "height": 81, "layer": [
{"data": {"name": "current"}, "transform": [{"filter": "datum.resp==='Zeta'"}], "mark": {"type": "rule", "style": "dot"}, "encoding": {"x": {"datum": 0, "type": "quantitative", "scale": {"domain": [-0.146, 1.146], "nice": false, "zero": false}, "axis": null}, "x2": {"datum": 1.03}, "y": {"field": "y", "type": "quantitative", "scale": {"domain": [-27, 74], "nice": false, "zero": false}, "axis": null}}},
{"data": {"name": "desir"}, "transform": [{"filter": "datum.resp==='Zeta'"}], "mark": {"type": "line", "color": "#1e1e1e", "strokeWidth": 1, "point": {"shape": "square", "size": 16, "filled": false, "color": "#1e1e1e", "strokeWidth": 1}}, "encoding": {"x": {"field": "d", "type": "quantitative", "scale": {"domain": [-0.146, 1.146], "nice": false, "zero": false}, "axis": null}, "y": {"field": "y", "type": "quantitative", "scale": {"domain": [-27, 74], "nice": false, "zero": false}, "axis": null}}}
]},

{"width": 83, "height": 81, "view": {"stroke": null}, "data": {"name": "labels"}, "transform": [{"filter": "datum.resp==='PDI'"}], "mark": {"type": "text", "angle": 270}, "encoding": {"x": {"field": "kind", "type": "nominal", "scale": {"type": "point", "padding": 0, "domain": ["name", "value", "ci"], "range": [17, 40]}, "axis": null}, "text": {"field": "text"}, "color": {"field": "kind", "type": "nominal", "scale": {"domain": ["pred", "upper", "lower", "name", "value", "ci", "dval"], "range": ["#1e1e1e", "#4b5fd5", "#4b5fd5", "#000000", "#d6405f", "#3553d3", "#000000"]}, "legend": null}}},
{"width": 92, "height": 81, "layer": [
{"data": {"name": "factors"}, "transform": [{"filter": "datum.factor==='Polymer'"}], "mark": {"type": "rule", "style": "dot"}, "encoding": {"x": {"field": "x", "type": "quantitative", "scale": {"domain": [16.8, 43.6], "nice": false, "zero": false}, "axis": null}}},
{"data": {"name": "current"}, "transform": [{"filter": "datum.resp==='PDI'"}], "mark": {"type": "rule", "style": "dot"}, "encoding": {"y": {"field": "y", "type": "quantitative", "scale": {"domain": [0.152, 0.932], "nice": false, "zero": false}, "axis": {"title": null, "values": [0.2, 0.3, 0.4, 0.5, 0.6, 0.7, 0.8, 0.9], "labelExpr": "indexof([0.2,0.4,0.6,0.8],datum.value)>=0?replace(format(datum.value,'~g'),'.',','):''", "tickSize": {"condition": {"test": "indexof([0.2,0.4,0.6,0.8],datum.value)<0", "value": 3}, "value": 6}}}}},
{"data": {"name": "curves"}, "transform": [{"filter": "datum.resp==='PDI'&&datum.factor==='Polymer'"}], "mark": {"type": "line", "clip": true}, "encoding": {
"x": {"field": "x", "type": "quantitative", "scale": {"domain": [16.8, 43.6], "nice": false, "zero": false}, "axis": null},
"y": {"field": "y", "type": "quantitative", "scale": {"domain": [0.152, 0.932], "nice": false, "zero": false}, "axis": {"title": null, "values": [0.2, 0.3, 0.4, 0.5, 0.6, 0.7, 0.8, 0.9], "labelExpr": "indexof([0.2,0.4,0.6,0.8],datum.value)>=0?replace(format(datum.value,'~g'),'.',','):''", "tickSize": {"condition": {"test": "indexof([0.2,0.4,0.6,0.8],datum.value)<0", "value": 3}, "value": 6}}},
"color": {"field": "series", "type": "nominal", "scale": {"domain": ["pred", "upper", "lower", "name", "value", "ci", "dval"], "range": ["#1e1e1e", "#4b5fd5", "#4b5fd5", "#000000", "#d6405f", "#3553d3", "#000000"]}, "legend": null},
"strokeDash": {"field": "series", "type": "nominal", "scale": {"domain": ["pred", "upper", "lower"], "range": [[1, 0], [5, 3.5], [5, 3.5]]}, "legend": null}}}
]},
{"width": 92, "height": 81, "layer": [
{"data": {"name": "factors"}, "transform": [{"filter": "datum.factor==='CI'"}], "mark": {"type": "rule", "style": "dot"}, "encoding": {"x": {"field": "x", "type": "quantitative", "scale": {"domain": [1.19, 3.78], "nice": false, "zero": false}, "axis": null}}},
{"data": {"name": "current"}, "transform": [{"filter": "datum.resp==='PDI'"}], "mark": {"type": "rule", "style": "dotk"}, "encoding": {"y": {"field": "y", "type": "quantitative", "scale": {"domain": [0.152, 0.932], "nice": false, "zero": false}, "axis": null}}},
{"data": {"name": "curves"}, "transform": [{"filter": "datum.resp==='PDI'&&datum.factor==='CI'"}], "mark": {"type": "line", "clip": true}, "encoding": {
"x": {"field": "x", "type": "quantitative", "scale": {"domain": [1.19, 3.78], "nice": false, "zero": false}, "axis": null},
"y": {"field": "y", "type": "quantitative", "scale": {"domain": [0.152, 0.932], "nice": false, "zero": false}, "axis": null},
"color": {"field": "series", "type": "nominal", "scale": {"domain": ["pred", "upper", "lower", "name", "value", "ci", "dval"], "range": ["#1e1e1e", "#4b5fd5", "#4b5fd5", "#000000", "#d6405f", "#3553d3", "#000000"]}, "legend": null},
"strokeDash": {"field": "series", "type": "nominal", "scale": {"domain": ["pred", "upper", "lower"], "range": [[1, 0], [5, 3.5], [5, 3.5]]}, "legend": null}}}
]},
{"width": 91, "height": 81, "layer": [
{"data": {"name": "current"}, "transform": [{"filter": "datum.resp==='PDI'"}], "mark": {"type": "rule", "style": "dot"}, "encoding": {"x": {"datum": 0, "type": "quantitative", "scale": {"domain": [-0.146, 1.146], "nice": false, "zero": false}, "axis": null}, "x2": {"datum": 1.03}, "y": {"field": "y", "type": "quantitative", "scale": {"domain": [0.152, 0.932], "nice": false, "zero": false}, "axis": null}}},
{"data": {"name": "desir"}, "transform": [{"filter": "datum.resp==='PDI'"}], "mark": {"type": "line", "color": "#1e1e1e", "strokeWidth": 1, "point": {"shape": "square", "size": 16, "filled": false, "color": "#1e1e1e", "strokeWidth": 1}}, "encoding": {"x": {"field": "d", "type": "quantitative", "scale": {"domain": [-0.146, 1.146], "nice": false, "zero": false}, "axis": null}, "y": {"field": "y", "type": "quantitative", "scale": {"domain": [0.152, 0.932], "nice": false, "zero": false}, "axis": null}}}
]},

{"width": 83, "height": 81, "view": {"stroke": null}, "data": {"name": "labels"}, "layer": [
{"transform": [{"filter": "datum.resp==='Desirability'&&datum.kind==='dval'"}], "mark": {"type": "text", "angle": 270}, "encoding": {"x": {"field": "kind", "type": "nominal", "scale": {"type": "point", "padding": 0, "domain": ["name", "dval"], "range": [12, 28]}, "axis": null}, "text": {"field": "text"}, "color": {"field": "kind", "type": "nominal", "scale": {"domain": ["pred", "upper", "lower", "name", "value", "ci", "dval"], "range": ["#1e1e1e", "#4b5fd5", "#4b5fd5", "#000000", "#d6405f", "#3553d3", "#000000"]}, "legend": null}}},
{"transform": [{"filter": "datum.resp==='Desirability'&&datum.kind==='name'"}], "mark": {"type": "text", "angle": 270, "dx": 6}, "encoding": {"x": {"field": "kind", "type": "nominal", "scale": {"type": "point", "padding": 0, "domain": ["name", "dval"], "range": [12, 28]}, "axis": null}, "text": {"field": "text"}, "color": {"field": "kind", "type": "nominal", "scale": {"domain": ["pred", "upper", "lower", "name", "value", "ci", "dval"], "range": ["#1e1e1e", "#4b5fd5", "#4b5fd5", "#000000", "#d6405f", "#3553d3", "#000000"]}, "legend": null}}}
]},
{"width": 92, "height": 81, "layer": [
{"data": {"name": "factors"}, "transform": [{"filter": "datum.factor==='Polymer'"}], "mark": {"type": "rule", "style": "dot"}, "encoding": {"x": {"field": "x", "type": "quantitative", "scale": {"domain": [16.8, 43.6], "nice": false, "zero": false}, "axis": {"title": null, "values": [17.5, 20, 22.5, 25, 27.5, 30, 32.5, 35, 37.5, 40, 42.5], "labelExpr": "indexof([20,25,30,35,40],datum.value)>=0?format(datum.value,'d'):''", "tickSize": {"condition": {"test": "indexof([20,25,30,35,40],datum.value)<0", "value": 3}, "value": 6}}}}},
{"data": {"name": "current"}, "transform": [{"filter": "datum.resp==='Desirability'"}], "mark": {"type": "rule", "style": "dot"}, "encoding": {"y": {"field": "y", "type": "quantitative", "scale": {"domain": [-0.144, 1.108], "nice": false, "zero": false}, "axis": {"title": null, "values": [0, 0.125, 0.25, 0.375, 0.5, 0.625, 0.75, 0.875, 1], "labelAngle": -90, "labelAlign": "center", "labelBaseline": "bottom", "labelExpr": "indexof([0,0.25,0.75,1],datum.value)>=0?replace(format(datum.value,'~g'),'.',','):''", "tickSize": {"condition": {"test": "indexof([0,0.25,0.5,0.75,1],datum.value)<0", "value": 3}, "value": 6}}}}},
{"data": {"name": "curves"}, "transform": [{"filter": "datum.resp==='Desirability'&&datum.factor==='Polymer'"}], "mark": {"type": "line", "clip": true}, "encoding": {
"x": {"field": "x", "type": "quantitative", "scale": {"domain": [16.8, 43.6], "nice": false, "zero": false}, "axis": {"title": null, "values": [17.5, 20, 22.5, 25, 27.5, 30, 32.5, 35, 37.5, 40, 42.5], "labelExpr": "indexof([20,25,30,35,40],datum.value)>=0?format(datum.value,'d'):''", "tickSize": {"condition": {"test": "indexof([20,25,30,35,40],datum.value)<0", "value": 3}, "value": 6}}},
"y": {"field": "y", "type": "quantitative", "scale": {"domain": [-0.144, 1.108], "nice": false, "zero": false}, "axis": {"title": null, "values": [0, 0.125, 0.25, 0.375, 0.5, 0.625, 0.75, 0.875, 1], "labelAngle": -90, "labelAlign": "center", "labelBaseline": "bottom", "labelExpr": "indexof([0,0.25,0.75,1],datum.value)>=0?replace(format(datum.value,'~g'),'.',','):''", "tickSize": {"condition": {"test": "indexof([0,0.25,0.5,0.75,1],datum.value)<0", "value": 3}, "value": 6}}},
"color": {"field": "series", "type": "nominal", "scale": {"domain": ["pred", "upper", "lower", "name", "value", "ci", "dval"], "range": ["#1e1e1e", "#4b5fd5", "#4b5fd5", "#000000", "#d6405f", "#3553d3", "#000000"]}, "legend": null},
"strokeDash": {"field": "series", "type": "nominal", "scale": {"domain": ["pred", "upper", "lower"], "range": [[1, 0], [5, 3.5], [5, 3.5]]}, "legend": null}}}
]},
{"width": 92, "height": 81, "layer": [
{"data": {"name": "factors"}, "transform": [{"filter": "datum.factor==='CI'"}], "mark": {"type": "rule", "style": "dot"}, "encoding": {"x": {"field": "x", "type": "quantitative", "scale": {"domain": [1.19, 3.78], "nice": false, "zero": false}, "axis": {"title": null, "values": [1.25, 1.5, 1.75, 2, 2.25, 2.5, 2.75, 3, 3.25, 3.5, 3.75], "labelExpr": "indexof([1.5,2,2.5,3,3.5],datum.value)>=0?replace(format(datum.value,'~g'),'.',','):''", "tickSize": {"condition": {"test": "indexof([1.5,2,2.5,3,3.5],datum.value)<0", "value": 3}, "value": 6}}}}},
{"data": {"name": "current"}, "transform": [{"filter": "datum.resp==='Desirability'"}], "mark": {"type": "rule", "style": "dotk"}, "encoding": {"y": {"field": "y", "type": "quantitative", "scale": {"domain": [-0.144, 1.108], "nice": false, "zero": false}, "axis": null}}},
{"data": {"name": "curves"}, "transform": [{"filter": "datum.resp==='Desirability'&&datum.factor==='CI'"}], "mark": {"type": "line", "clip": true}, "encoding": {
"x": {"field": "x", "type": "quantitative", "scale": {"domain": [1.19, 3.78], "nice": false, "zero": false}, "axis": {"title": null, "values": [1.25, 1.5, 1.75, 2, 2.25, 2.5, 2.75, 3, 3.25, 3.5, 3.75], "labelExpr": "indexof([1.5,2,2.5,3,3.5],datum.value)>=0?replace(format(datum.value,'~g'),'.',','):''", "tickSize": {"condition": {"test": "indexof([1.5,2,2.5,3,3.5],datum.value)<0", "value": 3}, "value": 6}}},
"y": {"field": "y", "type": "quantitative", "scale": {"domain": [-0.144, 1.108], "nice": false, "zero": false}, "axis": null},
"color": {"field": "series", "type": "nominal", "scale": {"domain": ["pred", "upper", "lower", "name", "value", "ci", "dval"], "range": ["#1e1e1e", "#4b5fd5", "#4b5fd5", "#000000", "#d6405f", "#3553d3", "#000000"]}, "legend": null},
"strokeDash": {"field": "series", "type": "nominal", "scale": {"domain": ["pred", "upper", "lower"], "range": [[1, 0], [5, 3.5], [5, 3.5]]}, "legend": null}}}
]},
{"width": 91, "height": 81, "data": {"name": "desir"}, "transform": [{"filter": "datum.resp==='Desirability'"}], "mark": "point", "encoding": {
"x": {"field": "d", "type": "quantitative", "scale": {"domain": [-0.146, 1.146], "nice": false, "zero": false}, "axis": {"title": null, "values": [-0.125, 0, 0.125, 0.25, 0.375, 0.5, 0.625, 0.75, 0.875, 1, 1.125], "labelExpr": "indexof([0,0.25,0.5,0.75,1],datum.value)>=0?replace(format(datum.value,'~g'),'.',','):''", "tickSize": {"condition": {"test": "indexof([0,0.25,0.5,0.75,1],datum.value)<0", "value": 3}, "value": 6}}},
"y": {"field": "y", "type": "quantitative", "scale": {"domain": [-0.144, 1.108], "nice": false, "zero": false}, "axis": null}}},

{"width": 83, "height": 55, "view": {"stroke": null}, "data": {"name": "xlabels"}, "transform": [{"filter": "datum.col==='none'"}], "mark": "text", "encoding": {"text": {"field": "text"}}},
{"width": 92, "height": 55, "view": {"stroke": null}, "data": {"name": "xlabels"}, "transform": [{"filter": "datum.col==='Polymer'"}], "mark": {"type": "text", "fontSize": 12}, "encoding": {
"y": {"field": "kind", "type": "nominal", "scale": {"type": "point", "padding": 0, "domain": ["value", "name"], "range": [28.7, 43]}, "axis": null},
"text": {"field": "text"},
"color": {"field": "kind", "type": "nominal", "scale": {"domain": ["pred", "upper", "lower", "name", "value", "ci", "dval"], "range": ["#1e1e1e", "#4b5fd5", "#4b5fd5", "#000000", "#d6405f", "#3553d3", "#000000"]}, "legend": null}}},
{"width": 92, "height": 55, "view": {"stroke": null}, "data": {"name": "xlabels"}, "transform": [{"filter": "datum.col==='CI'"}], "mark": {"type": "text", "fontSize": 12}, "encoding": {
"y": {"field": "kind", "type": "nominal", "scale": {"type": "point", "padding": 0, "domain": ["value", "name"], "range": [28.7, 43]}, "axis": null},
"text": {"field": "text"},
"color": {"field": "kind", "type": "nominal", "scale": {"domain": ["pred", "upper", "lower", "name", "value", "ci", "dval"], "range": ["#1e1e1e", "#4b5fd5", "#4b5fd5", "#000000", "#d6405f", "#3553d3", "#000000"]}, "legend": null}}},
{"width": 91, "height": 55, "view": {"stroke": null}, "data": {"name": "xlabels"}, "transform": [{"filter": "datum.col==='Desirability'"}], "mark": {"type": "text", "fontSize": 12}, "encoding": {
"y": {"field": "kind", "type": "nominal", "scale": {"type": "point", "padding": 0, "domain": ["value", "name"], "range": [28.7, 43]}, "axis": null},
"text": {"field": "text"},
"color": {"field": "kind", "type": "nominal", "scale": {"domain": ["pred", "upper", "lower", "name", "value", "ci", "dval"], "range": ["#1e1e1e", "#4b5fd5", "#4b5fd5", "#000000", "#d6405f", "#3553d3", "#000000"]}, "legend": null}}}
],
"config": {
"font": "Liberation Sans",
"view": {"stroke": "#3a3a3a", "strokeWidth": 1.5},
"concat": {"spacing": 0},
"axis": {"domain": false, "grid": false, "ticks": true, "tickColor": "#333333", "tickWidth": 1, "labelFont": "Liberation Sans", "labelFontSize": 11, "labelColor": "#111111", "labelPadding": 2, "labelOverlap": false, "labelFlush": false},
"axisX": {"labelAngle": -90},
"line": {"strokeWidth": 1.3},
"text": {"font": "Liberation Sans", "fontSize": 11},
"style": {
"dot": {"stroke": "#d6405f", "color": "#d6405f", "strokeDash": [1.5, 2], "strokeWidth": 1.2},
"dotk": {"stroke": "#7a3038", "color": "#7a3038", "strokeDash": [1.5, 2], "strokeWidth": 1.2}
}
}
}
